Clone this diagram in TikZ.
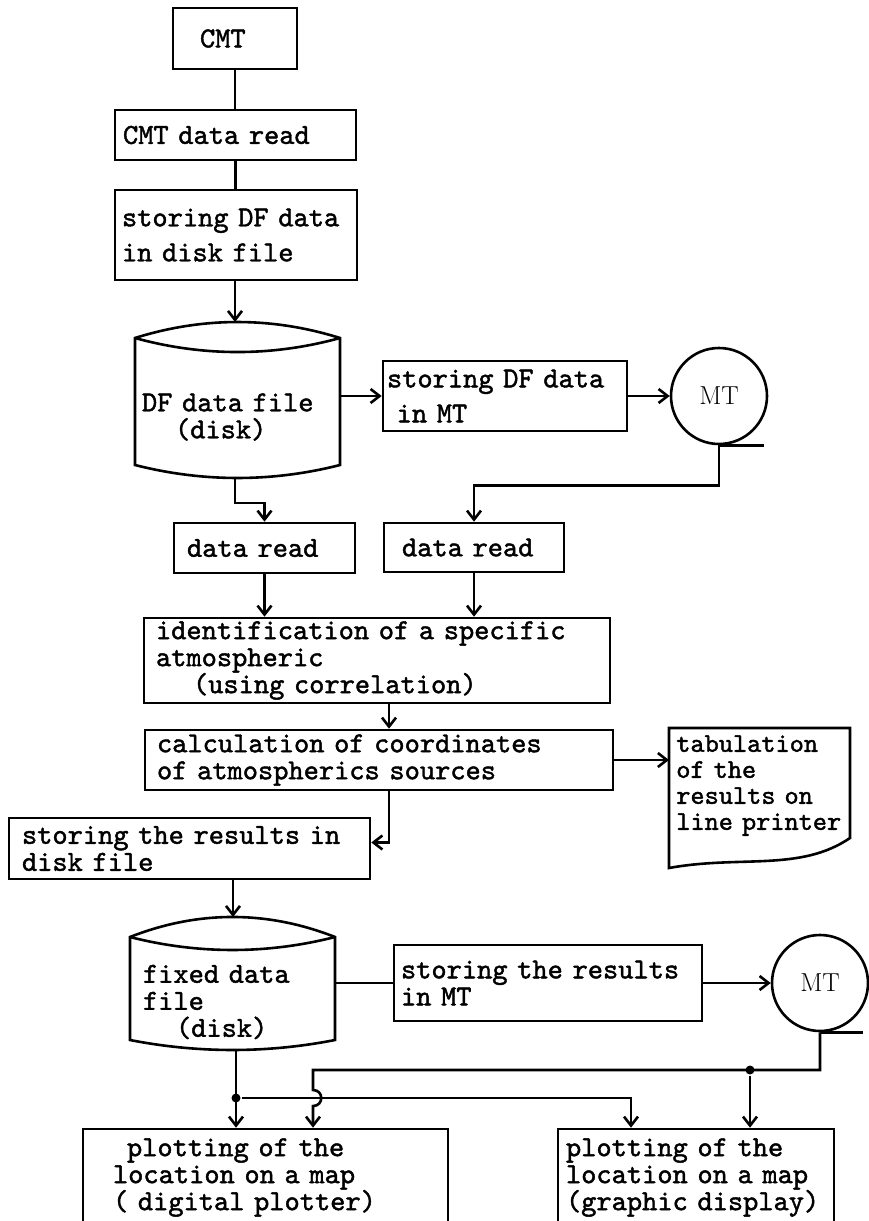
\documentclass[tikz,border=0pt]{standalone}
\usepackage{fontspec}
\newfontfamily\typew{lmmono10-regular.otf}[FakeBold=1.5]
\usetikzlibrary{arrows.meta}
\tikzstyle{every picture}=[x=1pt, y=-1pt, line width=2.6pt,%
	>={Straight Barb[length=9pt,width=14pt]}]
\tikzstyle{proc}=[draw, rectangle, align=left, inner ysep=0pt,%
	font=\typew\fontsize{29}{27}\selectfont]
\tikzstyle{disk}=[rectangle, align=left, inner ysep=0pt,%
	font=\typew\fontsize{29}{27}\selectfont]
\tikzstyle{tape}=[draw, circle, minimum size=96pt, inner sep=0pt,%
	font=\rmfamily\fontsize{26}{28}\selectfont]
\tikzstyle{junction}=[circle, fill, inner sep=0pt, minimum size=9pt]

\begin{document}
\begin{tikzpicture}
	\useasboundingbox[fill=white] (0,0) rectangle (868,1221);
	% upper part
	\node[proc, inner xsep=9pt, text width=106pt, minimum height=61pt] (cmt) at (235,38.5) {\hspace*{18pt}CMT};
	\node[proc, inner xsep=8pt, text width=225pt, minimum height=50pt] (cmtread) at (235.5,135) {CMT data read};
	\node[proc, inner xsep=7pt, text width=228pt, minimum height=90pt] (storedf) at (236,235) {storing DF data\\[8pt]in disk file};
	\draw (135,465) -- (135,338) .. controls (203,316.7) and (272,316.7) .. (340,338) -- (340,465)
		.. controls (272,482.3) and (203,482.3) .. cycle;
	\draw (135,338) .. controls (203,356.7) and (272,356.7) .. (340,338);
	\coordinate (dftop) at (235,322);
	\coordinate (dfbot) at (235,478);
	\node[disk, inner xsep=7pt, text width=191pt, minimum width=205pt] (df) at (237.5,417) {DF data file\\\hspace*{33pt}(disk)};
	\node[proc, inner xsep=4pt, text width=236pt, minimum height=70pt] (storemt) at (505,396) {storing DF data\\[8pt]~in MT};
	\node[tape] (mt1) at (719,396) {MT};
	\node[proc, inner xsep=13pt, text width=155pt, minimum height=50pt] (read1) at (264.5,548) {data read};
	\node[proc, inner xsep=18pt, text width=144pt, minimum height=49pt] (read2) at (474,547.5) {data read};
	\draw (cmt.south) -- (cmt.south |- cmtread.north);
	\draw (cmtread.south) -- (cmtread.south |- storedf.north);
	\draw[->] (storedf.south -| dftop) -- (dftop);
	\draw[->] (df.east |- storemt.west) -- (storemt.west);
	\draw[->] (storemt.east) -- (mt1.west);
	\draw (mt1.south) -- ++(45,0);
	\draw[->] (dfbot) -- ++(0,25) -| (read1.north);
	\draw[->] (mt1.south) -- ++(0,40) -| (read2.north);
	% middle part
	\node[proc, inner xsep=12pt, text width=442pt, minimum height=85pt] (ident) at (377,660.5)
		{identification of a specific\\atmospheric\\\hspace*{37pt}(using correlation)};
	\node[proc, inner xsep=12pt, text width=444pt, minimum height=60pt] (calc) at (379,760)
		{calculation of coordinates\\of atmospherics sources};
	\node[disk, anchor=north west, inner xsep=6pt, inner ysep=6pt, text width=190pt,%
		font=\typew\fontsize{27}{26}\selectfont] (tab) at (669,728)
		{tabulation\\of the\\results on\\line printer};
	\draw (669,868) -- (669,728) -- (850,728) -- (850,838)
		.. controls (800,872) and (740,855) .. cycle;
	\node[proc, inner xsep=13pt, text width=335pt, minimum height=61pt] (storeres) at (189.5,848.5)
		{storing the results in\\disk file};
	\draw[->] (read1.south) -- (read1.south |- ident.north);
	\draw[->] (read2.south) -- (read2.south |- ident.north);
	\draw[->] ([xshift=12pt]ident.south) -- ([xshift=12pt]ident.south |- calc.north);
	\draw[->] (calc.east) -- (calc.east -| tab.west);
	\draw[->] ([xshift=10pt]calc.south) |- ([yshift=6pt]storeres.east);
	% lower part
	\draw (130,1040) -- (130,937) .. controls (198,910.3) and (267,910.3) .. (335,937) -- (335,1040)
		.. controls (267,1053.3) and (198,1053.3) .. cycle;
	\draw (130,937) .. controls (198,954.3) and (267,954.3) .. (335,937);
	\coordinate (fixtop) at (233,917);
	\coordinate (fixbot) at (236,1050);
	\node[disk, inner xsep=13pt, text width=179pt, minimum width=205pt] (fixed) at (232.5,1002)
		{fixed data\\file\\\hspace*{33pt}(disk)};
	\node[proc, inner xsep=7pt, text width=294pt, minimum height=76pt] (storeres2) at (548,983)
		{storing the results\\in MT};
	\node[tape] (mt2) at (820,983) {MT};
	\node[proc, inner xsep=30pt, text width=305pt, minimum height=97pt] (plot1) at (265.5,1177.5)
		{\hspace*{14pt}plotting of the\\location on a map\\( digital plotter)};
	\node[proc, inner xsep=8pt, text width=260pt, minimum height=97pt] (plot2) at (696,1177.5)
		{plotting of the\\location on a map\\(graphic display)};
	\draw[->] (storeres.south -| fixtop) -- (fixtop);
	\draw (fixed.east |- storeres2.west) -- (storeres2.west);
	\draw[->] (storeres2.east) -- (mt2.west);
	\draw (mt2.south) -- ++(43,0);
	\node[junction] (j1) at (236,1098) {};
	\node[junction] (j2) at (750,1070) {};
	\coordinate (hop) at (313,1098);
	\draw[->] (fixbot) -- (fixbot |- plot1.north);
	\draw[->] (j1) -| ([xshift=-65pt]plot2.north);
	\draw[->] (mt2.south) |- (hop |- j2) -- ([yshift=8pt]hop)
		.. controls +(11,0) and +(11,0) .. ([yshift=-8pt]hop) -- (hop |- plot1.north);
	\draw[->] (j2) -- (j2 |- plot2.north);
\end{tikzpicture}
\end{document}
